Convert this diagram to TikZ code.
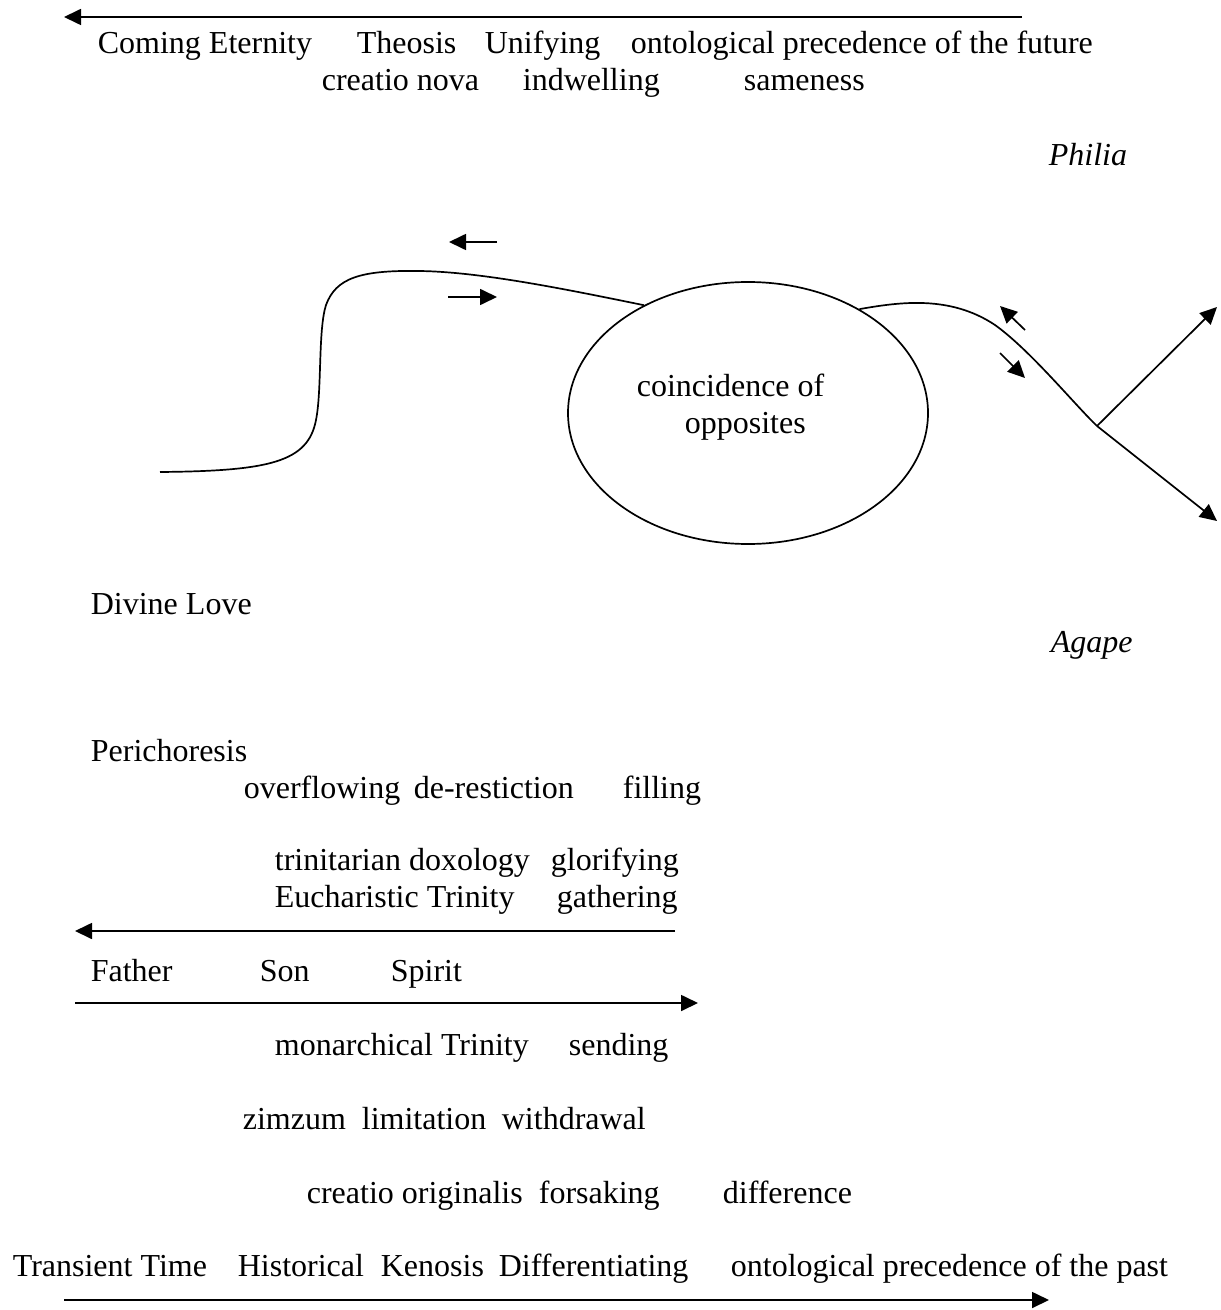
\documentclass[tikz,border=0pt]{standalone}
\usepackage{fontspec}
\setmainfont{Liberation Serif}
\usetikzlibrary{arrows.meta,shapes.geometric}

\begin{document}
\begin{tikzpicture}[x=0.5pt,y=-0.5pt,line width=0.85pt,
	font=\fontsize{16}{18.4}\selectfont,
	txt/.style={anchor=base west,inner sep=0pt,yshift=-1.5pt},
	arr/.style={-{Triangle[length=8.5pt,width=8pt]}}]
		\useasboundingbox (0,0) rectangle (1220,1310);
		% future line
		\coordinate (futR) at (1022,17);
		\coordinate (futL) at (64,17);
		\draw[arr] (futR) -- (futL);
		\node[txt] (coming) at (97,51) {Coming Eternity};
		\node[txt] (theosis) at (356,51) {Theosis};
		\node[txt] (unify) at (484,51) {Unifying};
		\node[txt] (future) at (630,51) {ontological precedence of the future};
		\node[txt] (nova) at (321,88) {creatio nova};
		\node[txt] (indwell) at (522,88) {indwelling};
		\node[txt] (same) at (743,88) {sameness};
		\node[txt] (philia) at (1048,163) {\textit{Philia}};
		% coincidence
		\node[draw,ellipse,minimum width=180pt,minimum height=131pt,inner sep=0pt] (coin) at (748,413) {};
		\node[txt] (coinA) at (636,393) {coincidence of};
		\node[txt] (coinB) at (684,430) {opposites};
		\coordinate (wave) at (160,472);
		\draw (wave) .. controls (270,471) and (308,462) .. (316,420) .. controls (322,390) and (318,330) .. (326,305)
			.. controls (336,278) and (360,270) .. (420,271) .. controls (480,272) and (560,288) .. (coin.134);
		\coordinate (fork) at (1097,426);
		\draw (coin.43) .. controls (900,302) and (950,295) .. (995,325) .. controls (1030,350) and (1075,405) .. (fork);
		\coordinate (upend) at (1217,307);
		\coordinate (downend) at (1217,521);
		\draw[arr] (fork) -- (upend);
		\draw[arr] (fork) -- (downend);
		% small arrows
		\coordinate (la1) at (497,242); \coordinate (la2) at (449,242);
		\coordinate (lb1) at (448,297); \coordinate (lb2) at (497,297);
		\coordinate (ra1) at (1025,330); \coordinate (ra2) at (1000,306);
		\coordinate (rb1) at (1000,353); \coordinate (rb2) at (1025,378);
		\draw[arr] (la1) -- (la2);
		\draw[arr] (lb1) -- (lb2);
		\draw[arr] (ra1) -- (ra2);
		\draw[arr] (rb1) -- (rb2);
		\node[txt] (love) at (90,611) {Divine Love};
		\node[txt] (agape) at (1050,649) {\textit{Agape}};
		% trinity
		\node[txt] (peri) at (90,758) {Perichoresis};
		\node[txt] (overfl) at (243,795) {overflowing};
		\node[txt] (derest) at (413,795) {de-restiction};
		\node[txt] (fill) at (622,795) {filling};
		\node[txt] (doxo) at (274,867) {trinitarian doxology};
		\node[txt] (glori) at (550,867) {glorifying};
		\node[txt] (euch) at (274,904) {Eucharistic Trinity};
		\node[txt] (gath) at (556,904) {gathering};
		\coordinate (upR) at (675,931);
		\coordinate (upL) at (75,931);
		\draw[arr] (upR) -- (upL);
		\node[txt] (father) at (90,978) {Father};
		\node[txt] (son) at (259,978) {Son};
		\node[txt] (spirit) at (390,978) {Spirit};
		\coordinate (dnL) at (75,1003);
		\coordinate (dnR) at (698,1003);
		\draw[arr] (dnL) -- (dnR);
		\node[txt] (monar) at (274,1052) {monarchical Trinity};
		\node[txt] (send) at (568,1052) {sending};
		\node[txt] (zim) at (242,1126) {zimzum};
		\node[txt] (limit) at (361,1126) {limitation};
		\node[txt] (withd) at (501,1126) {withdrawal};
		\node[txt] (orig) at (306,1200) {creatio originalis};
		\node[txt] (forsak) at (538,1200) {forsaking};
		\node[txt] (diff) at (722,1200) {difference};
		% past line
		\node[txt] (trans) at (12,1273) {Transient Time};
		\node[txt] (hist) at (237,1273) {Historical};
		\node[txt] (keno) at (380,1273) {Kenosis};
		\node[txt] (differ) at (498,1273) {Differentiating};
		\node[txt] (past) at (730,1273) {ontological precedence of the past};
		\coordinate (pastL) at (64,1300);
		\coordinate (pastR) at (1049,1300);
		\draw[arr] (pastL) -- (pastR);
\end{tikzpicture}
\end{document}
